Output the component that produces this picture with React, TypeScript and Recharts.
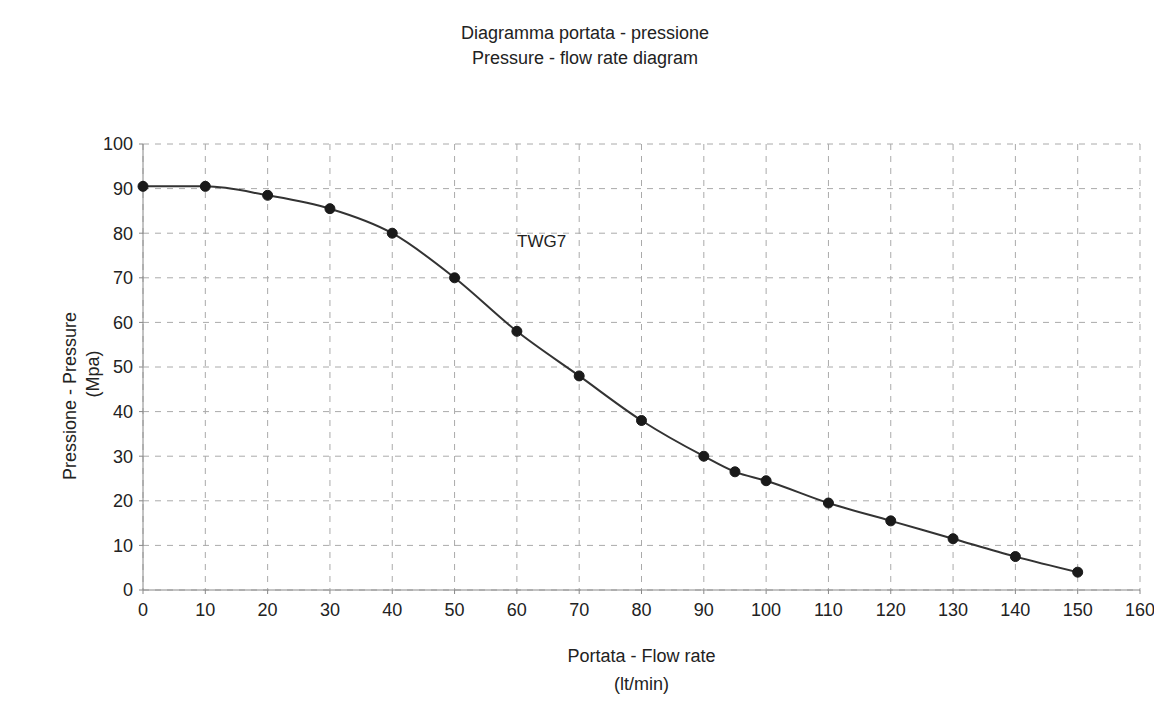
import { LineChart, Line, XAxis, YAxis, CartesianGrid, Label } from "recharts";

const flowRate = [0, 10, 20, 30, 40, 50, 60, 70, 80, 90, 95, 100, 110, 120, 130, 140, 150];
const pressure = [90.5, 90.5, 88.5, 85.5, 80, 70, 58, 48, 38, 30, 26.5, 24.5, 19.5, 15.5, 11.5, 7.5, 4];
const xTicks = [0, 10, 20, 30, 40, 50, 60, 70, 80, 90, 100, 110, 120, 130, 140, 150, 160];
const yTicks = [0, 10, 20, 30, 40, 50, 60, 70, 80, 90, 100];

const data = flowRate.map((q, i) => ({ q, p: pressure[i] }));

const FONT = "'Liberation Sans', Arial, sans-serif";
const tickStyle = { fill: "#222", fontSize: 18, fontFamily: FONT };

const YTitle = (props: any) => {
  const { viewBox } = props;
  const cy = viewBox.y + viewBox.height / 2;
  return (
    <g fontFamily={FONT} fontSize={18} fill="#222">
      <text x={62} y={cy + 29} transform={`rotate(-90, 62, ${cy + 29})`} textAnchor="middle" dominantBaseline="central">
        Pressione - Pressure
      </text>
      <text x={85} y={cy + 7} transform={`rotate(-90, 85, ${cy + 7})`} textAnchor="middle" dominantBaseline="central">
        (Mpa)
      </text>
    </g>
  );
};

const XTitle = (props: any) => {
  const { viewBox } = props;
  const cx = viewBox.x + viewBox.width / 2;
  const y0 = viewBox.y;
  return (
    <g fontFamily={FONT} fontSize={18} fill="#222">
      <text x={cx} y={y0 + 66} textAnchor="middle" dominantBaseline="central">
        Portata - Flow rate
      </text>
      <text x={cx} y={y0 + 94} textAnchor="middle" dominantBaseline="central">
        (lt/min)
      </text>
    </g>
  );
};

export default function App() {
  return (
    <div style={{ position: "relative", width: 1146, height: 700, background: "#fff", fontFamily: FONT }}>
      <div
        style={{
          position: "absolute",
          left: 0,
          width: 1154,
          top: 13,
          textAlign: "center",
          fontSize: 18,
          lineHeight: "25px",
          color: "#222",
        }}
      >
        <div>Diagramma portata - pressione</div>
        <div>Pressure - flow rate diagram</div>
      </div>
      <div style={{ position: "absolute", left: 509, top: 224, fontSize: 17, color: "#222" }}>TWG7</div>
      <LineChart width={1146} height={700} data={data} margin={{ top: 136, right: 14, bottom: 18, left: 0 }}>
        <CartesianGrid stroke="#aaa" strokeDasharray="6 6" />
        <XAxis
          dataKey="q"
          type="number"
          domain={[0, 160]}
          ticks={xTicks}
          interval={0}
          height={100}
          tick={tickStyle}
          tickSize={4}
          tickMargin={9}
          stroke="#888"
        >
          <Label content={<XTitle />} />
        </XAxis>
        <YAxis
          type="number"
          domain={[0, 100]}
          ticks={yTicks}
          interval={0}
          width={135}
          tick={tickStyle}
          tickSize={4}
          tickMargin={6}
          stroke="#888"
        >
          <Label content={<YTitle />} />
        </YAxis>
        <Line
          type="monotone"
          dataKey="p"
          stroke="#333"
          strokeWidth={2}
          dot={{ r: 5, fill: "#1a1a1a", stroke: "#1a1a1a", strokeWidth: 1 }}
          isAnimationActive={false}
        />
      </LineChart>
    </div>
  );
}
